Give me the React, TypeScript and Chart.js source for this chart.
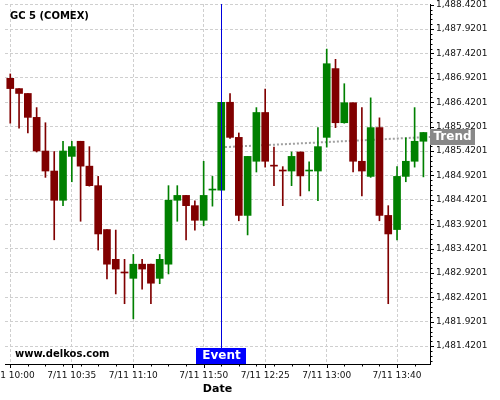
import React, { useEffect, useRef } from "react";
import { Chart, registerables } from "chart.js";

Chart.register(...registerables);

const chartTitle = "GC 5 (COMEX)";
const watermark = "www.delkos.com";
const datePrefix = "7/11 ";

const times = [
  "10:00", "10:05", "10:10", "10:15", "10:20", "10:25", "10:30", "10:35",
  "10:40", "10:45", "10:50", "10:55", "11:00", "11:05", "11:10", "11:15",
  "11:20", "11:25", "11:30", "11:35", "11:40", "11:45", "11:50", "11:55",
  "12:00", "12:05", "12:10", "12:15", "12:20", "12:25", "12:30", "12:35",
  "12:40", "12:45", "12:50", "12:55", "13:00", "13:05", "13:10", "13:15",
  "13:20", "13:25", "13:30", "13:35", "13:40", "13:45", "13:50", "13:55",
];

const openV = [
  1486.91, 1486.70, 1486.60, 1486.11, 1485.42, 1485.01, 1484.41, 1485.31,
  1485.62, 1485.11, 1484.71, 1483.81, 1483.20, 1482.93, 1482.81, 1483.10,
  1483.10, 1482.81, 1483.10, 1484.41, 1484.51, 1484.30, 1484.00, 1484.62,
  1484.62, 1486.42, 1485.70, 1484.10, 1485.21, 1486.21, 1485.12, 1485.02,
  1485.01, 1485.40, 1485.01, 1485.01, 1485.70, 1487.11, 1486.00, 1486.41,
  1485.21, 1484.90, 1485.90, 1484.10, 1483.81, 1484.90, 1485.21, 1485.62,
];
const highV = [
  1487.00, 1486.70, 1486.60, 1486.31, 1486.00, 1485.41, 1485.62, 1485.62,
  1485.62, 1485.51, 1484.90, 1483.81, 1483.80, 1483.20, 1483.30, 1483.20,
  1483.10, 1483.30, 1484.71, 1484.71, 1484.51, 1484.40, 1485.21, 1484.90,
  1486.42, 1486.60, 1485.79, 1485.31, 1486.31, 1486.69, 1485.50, 1485.10,
  1485.40, 1485.40, 1485.20, 1485.90, 1487.51, 1487.30, 1486.80, 1486.41,
  1486.31, 1486.51, 1486.10, 1484.30, 1485.10, 1485.69, 1486.31, 1485.80,
];
const lowV = [
  1485.99, 1485.89, 1485.79, 1485.40, 1484.88, 1483.60, 1484.30, 1484.79,
  1483.98, 1484.70, 1483.39, 1482.80, 1482.49, 1482.29, 1481.98, 1482.59,
  1482.29, 1482.70, 1482.90, 1483.98, 1483.60, 1483.80, 1483.89, 1484.29,
  1484.62, 1485.68, 1483.99, 1483.70, 1484.99, 1485.09, 1484.71, 1484.30,
  1484.71, 1484.50, 1484.60, 1484.40, 1485.50, 1485.90, 1485.99, 1484.99,
  1484.50, 1484.88, 1483.99, 1482.29, 1483.60, 1484.79, 1485.09, 1484.89,
];
const closeV = [
  1486.70, 1486.60, 1486.11, 1485.42, 1485.01, 1484.41, 1485.42, 1485.51,
  1485.11, 1484.71, 1483.72, 1483.10, 1483.00, 1482.92, 1483.10, 1483.00,
  1482.71, 1483.20, 1484.41, 1484.51, 1484.30, 1484.00, 1484.51, 1484.63,
  1486.42, 1485.70, 1484.10, 1485.31, 1486.21, 1485.21, 1485.11, 1485.01,
  1485.31, 1484.91, 1485.02, 1485.51, 1487.21, 1486.00, 1486.41, 1485.21,
  1485.01, 1485.90, 1484.10, 1483.72, 1484.90, 1485.21, 1485.62, 1485.80,
];

const xMajorIdx = [0, 7, 14, 22, 29, 36, 44];
const yMajorTicks = [
  1481.4201, 1481.9201, 1482.4201, 1482.9201, 1483.4201, 1483.9201, 1484.4201, 1484.9201,
  1485.4201, 1485.9201, 1486.4201, 1486.9201, 1487.4201, 1487.9201, 1488.4201,
];
const yMinorStep = 0.1;
const yMin = 1481.054;
const yMax = 1488.434;
const xMin = -0.6;
const xMax = 47.75;

const eventIndex = 24;
const eventLabel = "Event";
const trendLabel = "Trend";
const trendX = [24.43, 47.75];
const trendY = [1485.5, 1485.71];

const UP = "#008000";
const DOWN = "#800000";
const FONT = "DejaVu Sans";

const isMajorY = (v: number) => yMajorTicks.some((m) => Math.abs(m - v) < 1e-6);
const fmtY = (v: number) =>
  v.toLocaleString("en-US", { minimumFractionDigits: 4, maximumFractionDigits: 4 });

function buildYTicks() {
  const out: number[] = [];
  const first = yMajorTicks[0];
  for (let k = -10; k < 200; k++) {
    const v = Math.round((first + k * yMinorStep) * 10000) / 10000;
    if (v >= yMin && v <= yMax) out.push(v);
  }
  return out;
}

function buildXTicks() {
  const set = new Set<number>();
  xMajorIdx.forEach((m) => set.add(m));
  for (let i = 0; i < times.length; i += 2) set.add(i);
  return Array.from(set).sort((a, b) => a - b);
}

export default function App() {
  const ref = useRef<HTMLCanvasElement>(null);

  useEffect(() => {
    const canvas = ref.current;
    if (!canvas) return;
    const colors = openV.map((o, i) => (closeV[i] > o ? UP : DOWN));
    const yTicks = buildYTicks();
    const xTicks = buildXTicks();

    const overlay = {
      id: "overlay",
      afterDatasetsDraw(chart: any) {
        const { ctx, chartArea, scales } = chart;
        const x = scales.x.getPixelForValue(eventIndex);
        ctx.save();
        ctx.strokeStyle = "#0000dd";
        ctx.lineWidth = 1;
        ctx.beginPath();
        ctx.moveTo(Math.round(x) + 0.5, chartArea.top);
        ctx.lineTo(Math.round(x) + 0.5, chartArea.bottom);
        ctx.stroke();
        ctx.restore();
      },
      afterDraw(chart: any) {
        const { ctx, chartArea, scales } = chart;
        const xs = scales.x;
        const ys = scales.y;
        ctx.save();
        ctx.strokeStyle = "#000";
        ctx.lineWidth = 1;
        ys.ticks.forEach((t: any) => {
          const y = Math.round(ys.getPixelForValue(t.value)) + 0.5;
          const len = isMajorY(t.value) ? 4 : 2.5;
          ctx.beginPath();
          ctx.moveTo(chartArea.right, y);
          ctx.lineTo(chartArea.right + len, y);
          ctx.stroke();
        });
        xs.ticks.forEach((t: any) => {
          const x = Math.round(xs.getPixelForValue(t.value)) + 0.5;
          const len = xMajorIdx.includes(t.value) ? 4 : 2.5;
          ctx.beginPath();
          ctx.moveTo(x, chartArea.bottom);
          ctx.lineTo(x, chartArea.bottom + len);
          ctx.stroke();
        });

        ctx.fillStyle = "#000";
        ctx.font = `bold 10px "${FONT}"`;
        ctx.textAlign = "left";
        ctx.textBaseline = "alphabetic";
        ctx.fillText(chartTitle, 10, 18.5);
        ctx.fillText(watermark, 15, 357);

        const ex = xs.getPixelForValue(eventIndex);
        ctx.fillStyle = "#0000ff";
        ctx.fillRect(Math.round(ex) - 25, chartArea.bottom - 16, 50, 16);
        ctx.fillStyle = "#fff";
        ctx.font = `bold 12px "${FONT}"`;
        ctx.textAlign = "center";
        ctx.textBaseline = "middle";
        ctx.fillText(eventLabel, Math.round(ex) + 0.5, chartArea.bottom - 8);

        const ty = ys.getPixelForValue(trendY[1]);
        ctx.fillStyle = "#888888";
        ctx.fillRect(chartArea.right, Math.round(ty) - 8, 45, 16);
        ctx.fillStyle = "#fff";
        ctx.fillText(trendLabel, chartArea.right + 22.5, Math.round(ty));
        ctx.restore();
      },
    };

    const chart = new Chart(canvas, {
      type: "bar",
      data: {
        datasets: [
          {
            type: "bar",
            label: "body",
            data: openV.map((o, i) => ({ x: i, y: [o, closeV[i]] })) as any,
            backgroundColor: colors,
            borderWidth: 0,
            barThickness: 7,
            minBarLength: 1,
            grouped: false,
            order: 0,
          } as any,
          {
            type: "bar",
            label: "wick",
            data: lowV.map((l, i) => ({ x: i, y: [l, highV[i]] })) as any,
            backgroundColor: colors,
            borderWidth: 0,
            barThickness: 1,
            grouped: false,
            order: 1,
          } as any,
          {
            type: "line",
            label: "trend",
            data: trendX.map((x, i) => ({ x, y: trendY[i] })),
            borderColor: "#a0a0a0",
            borderWidth: 2,
            borderDash: [2, 2],
            pointRadius: 0,
            fill: false,
            order: 2,
          } as any,
        ],
      },
      options: {
        responsive: false,
        animation: false,
        events: [],
        layout: { padding: { left: 5, top: 4, right: 0, bottom: 0 } },
        plugins: { legend: { display: false }, tooltip: { enabled: false } },
        scales: {
          x: {
            type: "linear",
            position: "bottom",
            min: xMin,
            max: xMax,
            offset: false,
            afterBuildTicks: (scale: any) => {
              scale.ticks = xTicks.map((v) => ({ value: v }));
            },
            afterFit: (scale: any) => {
              scale.height = 36;
              scale.paddingLeft = 0;
              scale.paddingRight = 0;
            },
            grid: {
              offset: false,
              drawTicks: false,
              lineWidth: 1,
              color: (ctx: any) =>
                ctx.tick && xMajorIdx.includes(ctx.tick.value) ? "#cfcfcf" : "rgba(0,0,0,0)",
            },
            border: { display: true, color: "#000", width: 1, dash: [3, 2] },
            ticks: {
              autoSkip: false,
              maxRotation: 0,
              minRotation: 0,
              padding: 6.5,
              color: "#111",
              font: { family: FONT, size: 9 },
              callback: (v: any) =>
                xMajorIdx.includes(v) ? datePrefix + times[v] : "",
            },
            title: {
              display: true,
              text: "Date",
              color: "#000",
              font: { family: FONT, size: 11, weight: "bold" },
              padding: { top: 0, bottom: 4 },
            },
          },
          y: {
            type: "linear",
            position: "right",
            min: yMin,
            max: yMax,
            beginAtZero: false,
            afterBuildTicks: (scale: any) => {
              scale.ticks = yTicks.map((v) => ({ value: v }));
            },
            afterFit: (scale: any) => {
              scale.width = 70;
              scale.paddingTop = 0;
              scale.paddingBottom = 0;
            },
            grid: {
              drawTicks: false,
              lineWidth: 1,
              color: (ctx: any) =>
                ctx.tick && isMajorY(ctx.tick.value) ? "#cfcfcf" : "rgba(0,0,0,0)",
            },
            border: { display: true, color: "#000", width: 1, dash: [3, 2] },
            ticks: {
              autoSkip: false,
              padding: 6,
              color: "#111",
              font: { family: FONT, size: 9 },
              callback: (v: any) => (isMajorY(v) ? fmtY(v) : ""),
            },
          },
        },
      } as any,
      plugins: [overlay],
    });
    return () => chart.destroy();
  }, []);

  return (
    <div style={{ position: "absolute", left: 0, top: 0, width: 500, height: 400 }}>
      <canvas ref={ref} width={500} height={400} style={{ display: "block" }} />
    </div>
  );
}
